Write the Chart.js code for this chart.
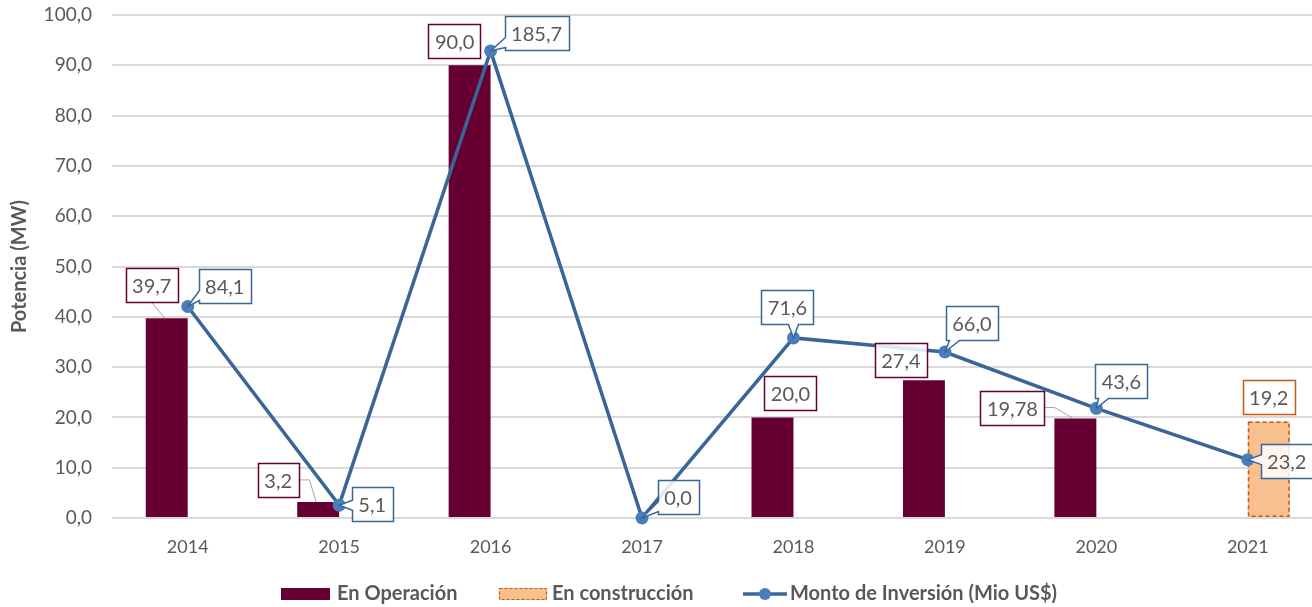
<!DOCTYPE html>
<html>
<head>
<meta charset="utf-8">
<script src="https://cdn.jsdelivr.net/npm/chart.js@4"></script>
<style>
  html, body { margin: 0; padding: 0; background: #fff; overflow: hidden; }
  #wrap { width: 1330px; height: 607px; }
</style>
</head>
<body>
<div id="wrap"><canvas id="chart" width="1330" height="607"></canvas></div>
<script>
// =================== DATA ===================
const years = ["2014", "2015", "2016", "2017", "2018", "2019", "2020", "2021"];
const enOperacion = [39.7, 3.2, 90.0, null, 20.0, 27.4, 19.78, null];
const enConstruccion = [null, null, null, null, null, null, null, 19.2];
const montoInversion = [84.1, 5.1, 185.7, 0.0, 71.6, 66.0, 43.6, 23.2];
const yTicks = [0, 10, 20, 30, 40, 50, 60, 70, 80, 90, 100];

// =================== STYLE ===================
const MAROON = "#660033";
const ORANGE_FILL = "#F8C08F";
const ORANGE_LINE = "#C55A11";
const BLUE_LINE = "#3A6597";
const BLUE_DOT = "#4A7EBB";
const TEXT = "#595959";
const FONT = "Lato, 'Open Sans', sans-serif";

const fmt = new Intl.NumberFormat("es-ES", { minimumFractionDigits: 1, maximumFractionDigits: 2 });

// label box offsets (box centre relative to bar top / point), per dataset
const labelOffsets = {
  0: [[-15, -33], [-40, -22], [-15, -24], null, [18, -24], [-23, -20], [-63, -11], null],
  1: [null, null, null, null, null, null, null, [0, -24]],
  2: [[37, -20], [33, -1], [46, -18], [36, -21], [-6, -31], [27, -29], [25, -27], [39, 1]]
};
const labelBorders = { 0: MAROON, 1: ORANGE_LINE, 2: BLUE_LINE };

// =================== PLUGINS ===================
function calloutPath(ctx, x0, y0, x1, y1, px, py) {
  const cx = (x0 + x1) / 2, cy = (y0 + y1) / 2;
  const nx = (px - cx) / ((x1 - x0) / 2), ny = (py - cy) / ((y1 - y0) / 2);
  let side;
  if (Math.abs(nx) > Math.abs(ny)) side = nx < 0 ? "left" : "right";
  else side = ny < 0 ? "top" : "bottom";
  const w = 10;
  const clamp = (v, a, b) => Math.max(a, Math.min(b, v));
  ctx.beginPath();
  ctx.moveTo(x0, y0);
  if (side === "top") {
    const c = clamp(px, x0 + 8, x1 - 8);
    ctx.lineTo(c - w / 2, y0); ctx.lineTo(px, py); ctx.lineTo(c + w / 2, y0);
  }
  ctx.lineTo(x1, y0);
  if (side === "right") {
    const c = clamp(py, y0 + 8, y1 - 8);
    ctx.lineTo(x1, c - w / 2); ctx.lineTo(px, py); ctx.lineTo(x1, c + w / 2);
  }
  ctx.lineTo(x1, y1);
  if (side === "bottom") {
    const c = clamp(px, x0 + 8, x1 - 8);
    ctx.lineTo(c + w / 2, y1); ctx.lineTo(px, py); ctx.lineTo(c - w / 2, y1);
  }
  ctx.lineTo(x0, y1);
  if (side === "left") {
    const c = clamp(py, y0 + 8, y1 - 8);
    ctx.lineTo(x0, c + w / 2); ctx.lineTo(px, py); ctx.lineTo(x0, c - w / 2);
  }
  ctx.closePath();
}

const dashedBarPlugin = {
  id: "dashedBar",
  afterDatasetDraw(chart, args) {
    if (args.index !== 1) return;
    const ctx = chart.ctx;
    ctx.save();
    ctx.strokeStyle = ORANGE_LINE;
    ctx.lineWidth = 1.5;
    ctx.setLineDash([4, 3]);
    args.meta.data.forEach((bar, i) => {
      if (enConstruccion[i] == null) return;
      const left = bar.x - bar.width / 2;
      ctx.strokeRect(left + 0.75, bar.y + 0.75, bar.width - 1.5, bar.base - bar.y - 1.5);
    });
    ctx.restore();
  }
};

const boxLabelPlugin = {
  id: "boxLabels",
  afterDatasetsDraw(chart) {
    const ctx = chart.ctx;
    ctx.save();
    ctx.font = "20px " + FONT;
    ctx.textAlign = "center";
    ctx.textBaseline = "middle";
    // bar labels first, line labels on top
    [0, 1, 2].forEach((di) => {
      const ds = chart.data.datasets[di];
      const meta = chart.getDatasetMeta(di);
      meta.data.forEach((el, i) => {
        const v = ds.data[i];
        const off = labelOffsets[di][i];
        if (v == null || !off) return;
        const txt = fmt.format(v);
        const tw = ctx.measureText(txt).width;
        const bw = tw + 13, bh = 34;
        const cx = el.x + off[0], cy = el.y + off[1];
        const x0 = Math.round(cx - bw / 2) + 0.5, y0 = Math.round(cy - bh / 2) + 0.5;
        const x1 = x0 + Math.round(bw), y1 = y0 + bh;
        ctx.lineWidth = 1.5;
        ctx.strokeStyle = labelBorders[di];
        ctx.fillStyle = "rgba(255,255,255,0.85)";
        if (di === 2) {
          calloutPath(ctx, x0, y0, x1, y1, el.x, el.y);
          ctx.fill();
          ctx.stroke();
        } else {
          // leader line to bar top
          const gapY = el.y - y1, gapX = Math.max(x0 - el.x, el.x - x1);
          if (gapY > 10 || gapX > 10) {
            ctx.save();
            ctx.strokeStyle = "#A6A6A6";
            ctx.lineWidth = 1;
            ctx.beginPath();
            if (gapX > 10 && el.y - y1 < 30) {
              ctx.moveTo(x1, cy);
              ctx.lineTo(x1 + 10, cy);
            } else {
              ctx.moveTo(cx, y1);
            }
            ctx.lineTo(el.x - 2, el.y);
            ctx.stroke();
            ctx.restore();
          }
          ctx.beginPath();
          ctx.rect(x0, y0, x1 - x0, bh);
          ctx.fill();
          ctx.stroke();
        }
        ctx.fillStyle = TEXT;
        ctx.fillText(txt, cx, (y0 + y1) / 2 + 1);
      });
    });
    ctx.restore();
  }
};

const legendPlugin = {
  id: "bottomLegend",
  afterDraw(chart) {
    const ctx = chart.ctx;
    const y = 594;
    ctx.save();
    ctx.font = "bold 20px " + FONT;
    ctx.textBaseline = "middle";
    ctx.textAlign = "left";
    let x = 281;
    // En Operación
    ctx.fillStyle = MAROON;
    ctx.fillRect(x, y - 6, 49, 12);
    ctx.fillStyle = TEXT;
    ctx.fillText("En Operación", x + 56, y);
    x = 499;
    ctx.fillStyle = ORANGE_FILL;
    ctx.fillRect(x, y - 6, 48, 12);
    ctx.strokeStyle = ORANGE_LINE;
    ctx.lineWidth = 1.2;
    ctx.setLineDash([3, 2]);
    ctx.strokeRect(x + 0.5, y - 5.5, 47, 11);
    ctx.setLineDash([]);
    ctx.fillStyle = TEXT;
    ctx.fillText("En construcción", x + 53, y);
    x = 743;
    ctx.strokeStyle = BLUE_LINE;
    ctx.lineWidth = 3.5;
    ctx.beginPath();
    ctx.moveTo(x, y);
    ctx.lineTo(x + 44, y);
    ctx.stroke();
    ctx.fillStyle = BLUE_DOT;
    ctx.beginPath();
    ctx.arc(x + 22, y, 6, 0, Math.PI * 2);
    ctx.fill();
    ctx.fillStyle = TEXT;
    ctx.fillText("Monto de Inversión (Mio US$)", x + 47, y);
    ctx.restore();
  }
};

// =================== CHART ===================
new Chart(document.getElementById("chart"), {
  data: {
    labels: years,
    datasets: [
      {
        type: "bar",
        label: "En Operación",
        data: enOperacion,
        backgroundColor: MAROON,
        borderWidth: 0,
        yAxisID: "y",
        order: 1
      },
      {
        type: "bar",
        label: "En construcción",
        data: enConstruccion,
        backgroundColor: ORANGE_FILL,
        borderWidth: 0,
        yAxisID: "y",
        order: 2
      },
      {
        type: "line",
        label: "Monto de Inversión (Mio US$)",
        data: montoInversion,
        borderColor: BLUE_LINE,
        borderWidth: 3.5,
        pointRadius: 6.5,
        pointBackgroundColor: BLUE_DOT,
        pointBorderColor: BLUE_DOT,
        pointBorderWidth: 0,
        tension: 0,
        clip: false,
        yAxisID: "y1",
        order: 0
      }
    ]
  },
  options: {
    responsive: false,
    animation: false,
    devicePixelRatio: 1,
    layout: { padding: { top: 15, right: 5, left: 0, bottom: 0 } },
    datasets: { bar: { categoryPercentage: 0.554, barPercentage: 1.0 } },
    plugins: {
      legend: { display: false },
      tooltip: { enabled: false }
    },
    scales: {
      x: {
        grid: { display: false, drawTicks: false },
        border: { display: false },
        ticks: { color: TEXT, font: { family: FONT, size: 18 }, padding: 18 },
        afterFit(scale) { scale.height = 89; scale.paddingLeft = 0; scale.paddingRight = 0; }
      },
      y: {
        min: 0,
        max: 100,
        afterBuildTicks(scale) { scale.ticks = yTicks.map((v) => ({ value: v })); },
        grid: { color: "#D9D9D9", lineWidth: 2, drawTicks: false },
        border: { display: false },
        ticks: {
          color: TEXT,
          font: { family: FONT, size: 19 },
          padding: 20,
          callback: (v) => fmt.format(v)
        },
        title: {
          display: true,
          text: "Potencia (MW)",
          color: TEXT,
          font: { family: FONT, size: 20, weight: "bold" },
          padding: { top: 8, bottom: 0 }
        },
        afterFit(scale) { scale.width = 112; scale.paddingTop = 0; scale.paddingBottom = 0; }
      },
      y1: {
        display: false,
        min: 0,
        max: 200
      }
    }
  },
  plugins: [dashedBarPlugin, boxLabelPlugin, legendPlugin]
});
</script>
</body>
</html>
